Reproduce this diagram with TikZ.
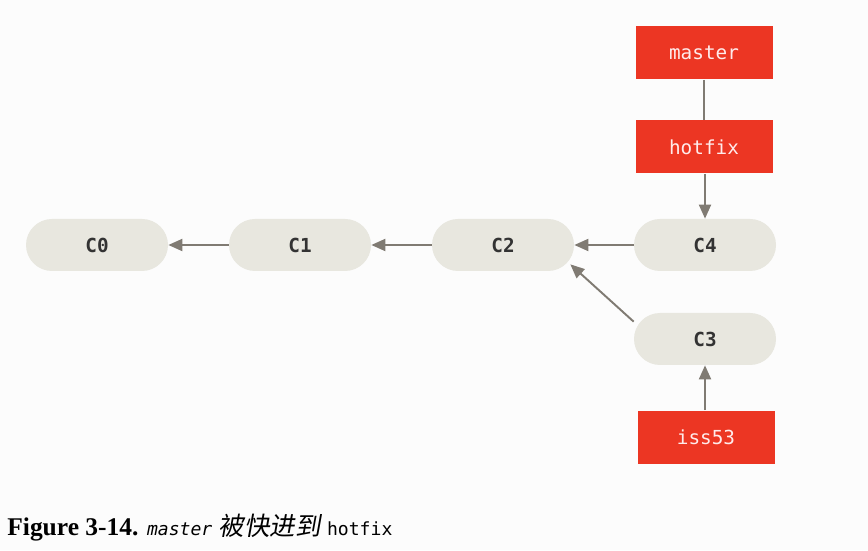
\documentclass[tikz,border=0pt]{standalone}
\usepackage{fontspec}
\usetikzlibrary{arrows.meta}
\setmainfont{Liberation Serif}
\setmonofont{DejaVu Sans Mono}
\newfontfamily\cjk[FakeSlant=0.18]{Noto Sans CJK SC}
\definecolor{commitfill}{RGB}{232,231,223}
\definecolor{branchred}{RGB}{236,54,35}
\definecolor{linkgray}{RGB}{128,123,115}
\definecolor{commitText}{RGB}{51,51,51}

\begin{document}
\begin{tikzpicture}[
	commit/.style={fill=commitfill, rounded corners=0.52cm, minimum width=2.84cm, minimum height=1.04cm, font=\fontsize{11}{13}\ttfamily\bfseries, text=commitText},
	branch/.style={fill=branchred, minimum width=2.74cm, minimum height=1.06cm, font=\fontsize{11}{13}\ttfamily, text=white!92!red},
	link/.style={draw=linkgray, line width=1.1pt, -{Triangle[length=0.28cm, width=0.24cm]}}
	]
	\fill[white!98.8!black] (0,0) rectangle (17.36,11);
	\useasboundingbox (0,0) rectangle (17.36,11);

	\node[commit] (c0) at (1.94, 6.1) {C0};
	\node[commit] (c1) at (6.0, 6.1) {C1};
	\node[commit] (c2) at (10.06, 6.1) {C2};
	\node[commit] (c4) at (14.1, 6.1) {C4};
	\node[commit] (c3) at (14.1, 4.22) {C3};

	\node[branch] (master) at (14.08, 9.94) {master};
	\node[branch] (hotfix) at (14.08, 8.06) {hotfix};
	\node[branch] (iss53) at (14.12, 2.26) {iss53};

	\draw[link] (c1) -- (c0);
	\draw[link] (c2) -- (c1);
	\draw[link] (c4) -- (c2);
	\draw[link] ([yshift=-0.18cm]c3.north west) -- ([xshift=-0.08cm, yshift=0.14cm]c2.south east);
	\draw[link] (hotfix.south -| c4) -- (c4);
	\draw[link] (iss53.north -| c3) -- (c3);
	\draw[draw=linkgray, line width=1.1pt] (master) -- (hotfix);

	% caption
	\node[anchor=base west, inner sep=0pt] (caption) at (0.14, 0.3) {\fontsize{14.5}{16}\selectfont\textbf{Figure 3-14.} {\fontsize{10.3}{12}\ttfamily\itshape master} {\cjk 被快进到} {\fontsize{10.3}{12}\ttfamily hotfix}};
\end{tikzpicture}
\end{document}
